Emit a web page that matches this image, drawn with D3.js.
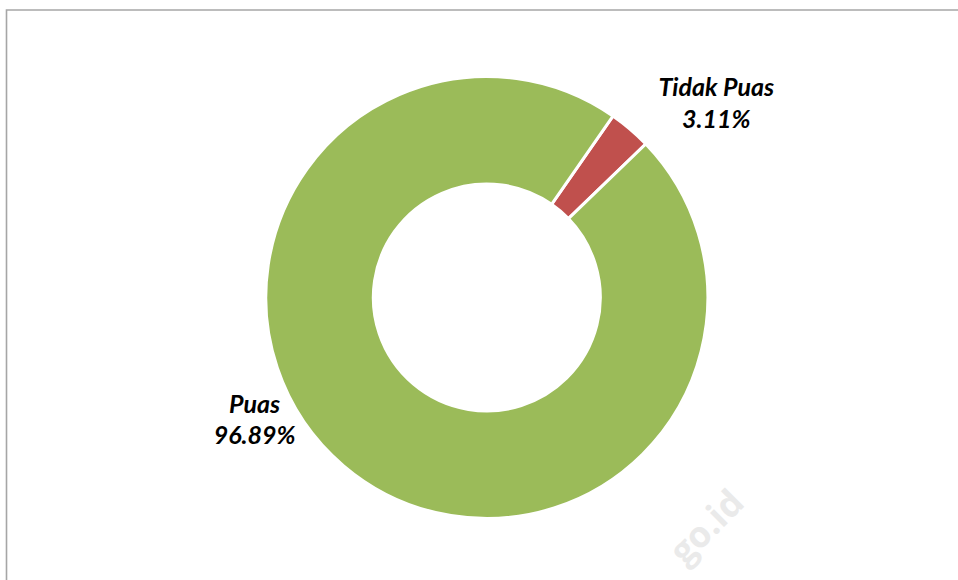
<!DOCTYPE html>
<html>
<head>
<meta charset="utf-8">
<script src="https://cdn.jsdelivr.net/npm/d3@7/dist/d3.min.js"></script>
<style>
  html, body { margin: 0; padding: 0; background: #ffffff; }
  svg { display: block; }
</style>
</head>
<body>
<svg id="chart" width="958" height="580"></svg>
<script>
// Survey result shares (percent)
const categories = ["Tidak Puas", "Puas"];
const values = [3.11, 96.89];
const valueLabels = ["3.11%", "96.89%"];
const colors = ["#C0504D", "#9BBB59"];

const width = 958, height = 580;
const cx = 486.8, cy = 297.5;
const outerR = 221, innerR = 113.5;
const startDeg = 34.8; // first slice begins here, clockwise from 12 o'clock

const svg = d3.select("#chart");

// chart frame (top and left edges visible within the page)
svg.append("path")
  .attr("d", "M6.5,580 V10 H958")
  .attr("fill", "none")
  .attr("stroke", "#A6A6A6")
  .attr("stroke-width", 1.6);

// faint watermark
svg.append("text")
  .attr("transform", "translate(746,505) rotate(-45)")
  .attr("text-anchor", "end")
  .attr("font-family", "'Open Sans', 'DejaVu Sans', sans-serif")
  .attr("font-weight", "bold")
  .attr("font-size", 36)
  .attr("fill", "#EAEAEA")
  .text("go.id");

const start = startDeg * Math.PI / 180;
const pie = d3.pie().sort(null).value(d => d)
  .startAngle(start).endAngle(start + 2 * Math.PI);
const arcs = pie(values);
const arc = d3.arc().innerRadius(innerR).outerRadius(outerR);

const g = svg.append("g").attr("transform", `translate(${cx},${cy})`);
g.selectAll("path.slice")
  .data(arcs)
  .enter().append("path")
  .attr("class", "slice")
  .attr("d", arc)
  .attr("fill", (d, i) => colors[i])
  .attr("stroke", "#ffffff")
  .attr("stroke-width", 3)
  .attr("stroke-linejoin", "miter");

// label placement: angle (deg, clockwise from top) and radius from centre
const labelAngles = [49.9, 242.0];
const labelRadii = [300, 263];

const labels = g.selectAll("g.lbl")
  .data(arcs)
  .enter().append("g")
  .attr("class", "lbl")
  .attr("transform", (d, i) => {
    const a = labelAngles[i] * Math.PI / 180;
    return `translate(${labelRadii[i] * Math.sin(a)},${-labelRadii[i] * Math.cos(a)})`;
  });

labels.each(function(d, i) {
  const t = d3.select(this).append("text")
    .attr("text-anchor", "middle")
    .attr("font-family", "Lato, 'Open Sans', sans-serif")
    .attr("font-weight", "bold")
    .attr("font-style", "italic")
    .attr("font-size", 25)
    .attr("fill", "#000000");
  t.append("tspan").attr("x", 0).attr("y", -8).text(categories[i]);
  t.append("tspan").attr("x", 0).attr("y", 23.5).text(valueLabels[i]);
});
</script>
</body>
</html>
